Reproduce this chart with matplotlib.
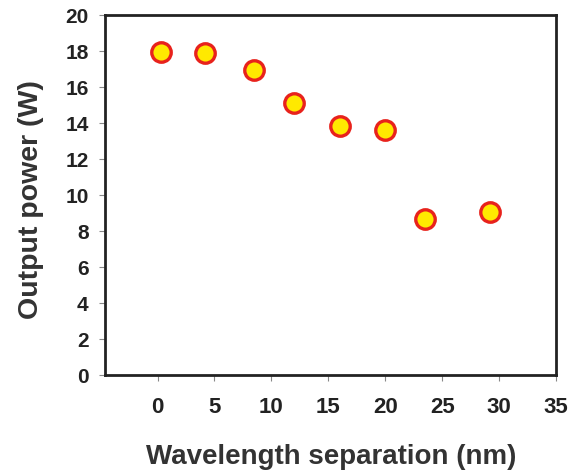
import matplotlib.pyplot as plt

# wavelength separation (nm) vs output power (W)
separation = [0.3, 4.2, 8.5, 12.0, 16.0, 20.0, 23.5, 29.2]
power = [17.95, 17.9, 16.95, 15.1, 13.85, 13.6, 8.7, 9.05]

plt.rcParams['font.family'] = ['Liberation Sans', 'DejaVu Sans']
plt.rcParams['font.weight'] = 'bold'

fig = plt.figure(figsize=(5.78, 4.72), dpi=100)
ax = fig.add_axes([0.182, 0.205, 0.78, 0.763])

ax.plot(separation, power, 'o', markersize=14, markerfacecolor='#ffe900',
        markeredgecolor='#e8221c', markeredgewidth=2.4, linestyle='none')

ax.set_xlim(-4.6, 35)
ax.set_ylim(0, 20)
ax.set_xticks(range(0, 36, 5))
ax.set_yticks(range(0, 21, 2))

for s in ax.spines.values():
    s.set_linewidth(2)
    s.set_color('#222222')

ax.tick_params(axis='both', direction='out', length=4, width=0.8,
               color='#888888', labelcolor='#222222')
ax.tick_params(axis='x', pad=12, labelsize=16)
ax.tick_params(axis='y', pad=8, labelsize=15)

ax.set_xlabel('Wavelength separation (nm)', fontsize=20, fontweight='bold',
              color='#333333')
ax.set_ylabel('Output power (W)', fontsize=20.5, fontweight='bold',
              color='#333333')
ax.xaxis.set_label_coords(0.501, -0.19)
ax.yaxis.set_label_coords(-0.135, 0.489)

fig.savefig('out.png', dpi=100)
